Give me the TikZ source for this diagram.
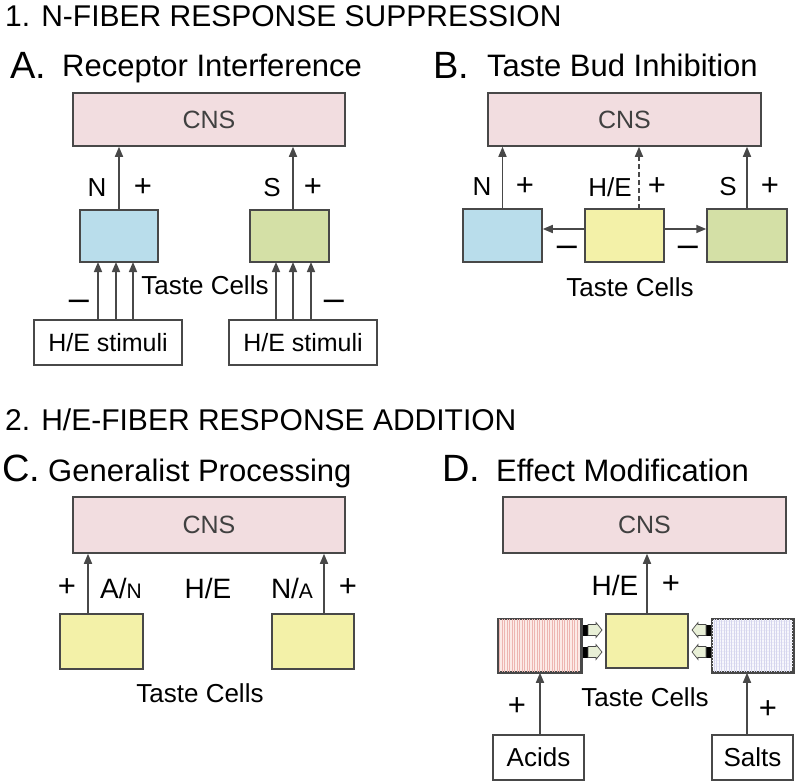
\documentclass[tikz,border=0pt]{standalone}
\usepackage{fontspec}
\setmainfont{Liberation Sans}
\usetikzlibrary{arrows.meta,calc}
\definecolor{cnsfill}{HTML}{F2DDE0}
\definecolor{bluefill}{HTML}{B9DDEB}
\definecolor{greenfill}{HTML}{D4E0A6}
\definecolor{yellowfill}{HTML}{F3F1A8}
\definecolor{edge}{HTML}{484848}
\definecolor{cnstext}{HTML}{404040}
\definecolor{redfill}{HTML}{FCEAE7}
\definecolor{redline}{HTML}{EDB5B1}
\definecolor{lavfill}{HTML}{F7F7FC}
\definecolor{lavline}{HTML}{D6D6EE}
\definecolor{blockfill}{HTML}{E8EFD6}
\newcommand\myfs[1]{\fontsize{#1}{#1}\selectfont}
\begin{document}
\begin{tikzpicture}[x=1pt,y=-1pt,
  title/.style={anchor=base west,inner sep=0pt,font=\myfs{30}},
  letter/.style={anchor=base west,inner sep=0pt,font=\myfs{38}},
  head/.style={anchor=base west,inner sep=0pt,font=\myfs{31}},
  lbl/.style={inner sep=0pt,font=\myfs{26}},
  plus/.style={inner sep=0pt,font=\myfs{31}},
  minus/.style={anchor=base,inner sep=0pt,font=\myfs{36}},
  cns/.style={draw=edge,line width=1.5pt,fill=cnsfill,inner sep=0pt,text=cnstext,font=\myfs{25}},
  cell/.style={draw=edge,line width=1.5pt,inner sep=0pt},
  stim/.style={draw=edge,line width=1.4pt,fill=white,inner sep=0pt,font=\myfs{25}},
  arr/.style={-{Triangle[length=10pt,width=8pt]},draw=edge,line width=1.6pt},
  blkR/.pic={
    \fill[black] (0,-5.5) rectangle (5,5.5);
    \filldraw[fill=blockfill,draw=edge,line width=0.7pt] (5,-5.5) -- (13,-5.5) -- (13,-7.5) -- (19,0) -- (13,7.5) -- (13,5.5) -- (5,5.5) -- cycle;
  }
]
\useasboundingbox (0,0) rectangle (798,784);

% ---------- Section 1 ----------
\node[title] (t1) at (5,27) {1. N-FIBER RESPONSE SUPPRESSION};
\node[letter] (la) at (10,78) {A.};
\node[head] (ha) at (62,77) {Receptor Interference};
\node[letter] (lb) at (433,78) {B.};
\node[head] (hb) at (487,77) {Taste Bud Inhibition};

% Panel A
\node[cns,minimum width=272,minimum height=53] (cnsA) at (209,119.5) {CNS};
\node[cell,fill=bluefill,minimum width=78,minimum height=52] (blueA) at (119,236) {};
\node[cell,fill=greenfill,minimum width=79,minimum height=52] (greenA) at (289.5,236) {};
\node[stim,minimum width=148,minimum height=45] (stimA1) at (108,342.5) {H/E stimuli};
\node[stim,minimum width=148,minimum height=45] (stimA2) at (303,342.5) {H/E stimuli};
\coordinate (ga) at (293,210);
\draw[arr] (blueA.north) -- (blueA.north |- cnsA.south);
\draw[arr] (ga) -- (ga |- cnsA.south);
\foreach \x in {98,116,133} \draw[arr] (\x,320) -- (\x,262);
\foreach \x in {276,293,311} \draw[arr] (\x,320) -- (\x,262);
\node[lbl] (nA) at (97,188) {N};
\node[plus] (pA1) at (143,188) {+};
\node[lbl] (sA) at (272,188) {S};
\node[plus] (pA2) at (313,188) {+};
\node[lbl] (tcA) at (205,285) {Taste Cells};
\node[minus] (mA1) at (79,310) {–};
\node[minus] (mA2) at (334,310) {–};

% Panel B
\node[cns,minimum width=273,minimum height=53] (cnsB) at (624.5,119.5) {CNS};
\node[cell,fill=bluefill,minimum width=79,minimum height=53] (blueB) at (502.5,235.5) {};
\node[cell,fill=yellowfill,minimum width=79,minimum height=53] (yelB) at (624.5,235.5) {};
\node[cell,fill=greenfill,minimum width=80,minimum height=53] (greenB) at (747,235.5) {};
\coordinate (yb) at (639,209);
\draw[arr] (blueB.north) -- (blueB.north |- cnsB.south);
\draw[arr,dashed,dash pattern=on 5pt off 3pt] (yb) -- (yb |- cnsB.south);
\draw[arr] (greenB.north) -- (greenB.north |- cnsB.south);
\draw[arr] (yelB.west |- 0,229) -- (blueB.east |- 0,229);
\draw[arr] (yelB.east |- 0,229) -- (greenB.west |- 0,229);
\node[lbl] (nB) at (482,187) {N};
\node[plus] (pB1) at (525,187) {+};
\node[lbl] (hB) at (610,187) {H/E};
\node[plus] (pB2) at (657,187) {+};
\node[lbl] (sB) at (728,187) {S};
\node[plus] (pB3) at (770,187) {+};
\node[minus] (mB1) at (567,256) {–};
\node[minus] (mB2) at (688,256) {–};
\node[lbl] (tcB) at (630,287) {Taste Cells};

% ---------- Section 2 ----------
\node[title] (t2) at (5,430) {2. H/E-FIBER RESPONSE ADDITION};
\node[letter] (lc) at (2,481) {C.};
\node[head] (hc) at (48,481) {Generalist Processing};
\node[letter] (ld) at (442,481) {D.};
\node[head] (hd) at (496,481) {Effect Modification};

% Panel C
\node[cns,minimum width=272,minimum height=56] (cnsC) at (209,525) {CNS};
\node[cell,fill=yellowfill,minimum width=83,minimum height=55] (yC1) at (101.5,641.5) {};
\node[cell,fill=yellowfill,minimum width=82,minimum height=55] (yC2) at (313,641.5) {};
\coordinate (c1) at (88,614);
\coordinate (c2) at (324,614);
\draw[arr] (c1) -- (c1 |- cnsC.south);
\draw[arr] (c2) -- (c2 |- cnsC.south);
\node[plus] (pC1) at (67,588) {+};
\node[lbl,font=\myfs{28}] (anC) at (121,588) {A/{\myfs{21}N}};
\node[lbl,font=\myfs{28}] (hC) at (208,588) {H/E};
\node[lbl,font=\myfs{28}] (naC) at (292,588) {N/{\myfs{21}A}};
\node[plus] (pC2) at (348,588) {+};
\node[lbl] (tcC) at (200,693) {Taste Cells};

% Panel D
\node[cns,minimum width=283,minimum height=56] (cnsD) at (644.5,525) {CNS};
\node[cell,fill=yellowfill,minimum width=82,minimum height=54] (yD) at (647,641) {};
\node[cell,fill=redfill,minimum width=83,minimum height=53] (redD) at (539.5,645.5) {};
\node[cell,fill=lavfill,minimum width=81,minimum height=53] (lavD) at (752.5,645.5) {};
\foreach \i in {2.5,5,...,80} \draw[redline,line width=0.6pt] ($(redD.north west)+(\i,1.2)$) -- ($(redD.south west)+(\i,-1.2)$);
\foreach \i in {3,6,...,50} \draw[lavline!50,line width=0.35pt] ($(lavD.north west)+(1.2,\i)$) -- ($(lavD.north east)+(-1.2,\i)$);
\foreach \i in {2.5,5,...,78} \draw[lavline,line width=0.45pt] ($(lavD.north west)+(\i,1.2)$) -- ($(lavD.south west)+(\i,-1.2)$);
\draw[edge,line width=1.5pt] (redD.north west) rectangle (redD.south east);
\draw[edge,line width=1.5pt] (lavD.north west) rectangle (lavD.south east);
\node[stim,font=\myfs{26},minimum width=91,minimum height=45] (acids) at (538.5,757.5) {Acids};
\node[stim,font=\myfs{26},minimum width=81,minimum height=45] (salts) at (752.5,757.5) {Salts};
\draw[arr] (yD.north) -- (yD.north |- cnsD.south);
\coordinate (da) at (540,735);
\coordinate (ds) at (747,735);
\draw[arr] (da) -- (da |- redD.south);
\draw[arr] (ds) -- (ds |- lavD.south);
\node[lbl,font=\myfs{28}] (hD) at (615,585) {H/E};
\node[plus] (pD1) at (671,585) {+};
\node[plus] (pD2) at (517,707) {+};
\node[plus] (pD3) at (768,710) {+};
\node[lbl] (tcD) at (645,697) {Taste Cells};
\pic at (583,630) {blkR};
\pic at (583,652) {blkR};
\pic[xscale=-1] at (711,630) {blkR};
\pic[xscale=-1] at (711,652) {blkR};
\end{tikzpicture}
\end{document}
